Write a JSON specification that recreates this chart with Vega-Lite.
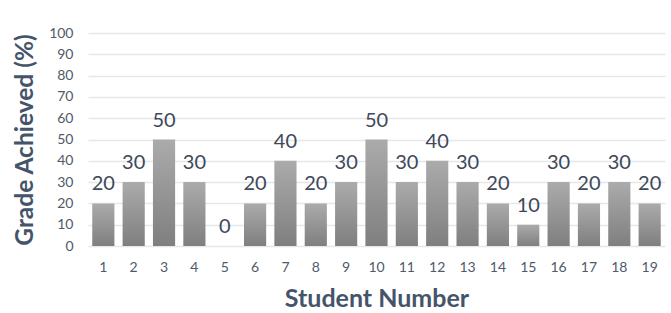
{
  "$schema": "https://vega.github.io/schema/vega-lite/v6.json",
  "autosize": {"type": "none"},
  "width": 577,
  "height": 213,
  "padding": {"left": 88, "top": 33, "right": 6, "bottom": 67},
  "background": "white",
  "config": {"view": {"stroke": null}, "font": "Lato"},
  "data": {"values": [
    {"student": 1, "grade": 20}, {"student": 2, "grade": 30}, {"student": 3, "grade": 50},
    {"student": 4, "grade": 30}, {"student": 5, "grade": 0}, {"student": 6, "grade": 20},
    {"student": 7, "grade": 40}, {"student": 8, "grade": 20}, {"student": 9, "grade": 30},
    {"student": 10, "grade": 50}, {"student": 11, "grade": 30}, {"student": 12, "grade": 40},
    {"student": 13, "grade": 30}, {"student": 14, "grade": 20}, {"student": 15, "grade": 10},
    {"student": 16, "grade": 30}, {"student": 17, "grade": 20}, {"student": 18, "grade": 30},
    {"student": 19, "grade": 20}
  ]},
  "encoding": {
    "x": {"field": "student", "type": "ordinal", "scale": {"paddingInner": 0.27, "paddingOuter": 0.14},
      "axis": {"title": "Student Number", "labelAngle": 0, "ticks": false, "domain": false,
        "labelFont": "Lato", "labelFontSize": 14, "labelColor": "#505a68", "labelPadding": 14,
        "titleFont": "Lato", "titleFontSize": 25, "titleFontWeight": "bold", "titleColor": "#44546A", "titlePadding": 12}},
    "y": {"field": "grade", "type": "quantitative", "scale": {"domain": [0, 100]},
      "axis": {"title": "Grade Achieved (%)", "values": [0,10,20,30,40,50,60,70,80,90,100], "ticks": false, "domain": false,
        "gridColor": "#e3e8ef", "gridWidth": 1.5,
        "labelFont": "Lato", "labelFontSize": 14, "labelColor": "#505a68", "labelPadding": 15,
        "titleFont": "Lato", "titleFontSize": 24.5, "titleFontWeight": "bold", "titleColor": "#44546A", "titlePadding": 11}}
  },
  "layer": [
    {"mark": {"type": "bar", "color": {"gradient": "linear", "x1": 0, "y1": 0, "x2": 0, "y2": 1,
      "stops": [{"offset": 0, "color": "#ababab"}, {"offset": 1, "color": "#7f7f7f"}]}}},
    {"mark": {"type": "text", "baseline": "alphabetic", "dy": -13, "fontSize": 20, "font": "Lato", "color": "#404858"},
      "encoding": {"text": {"field": "grade", "type": "quantitative"}}}
  ]
}
